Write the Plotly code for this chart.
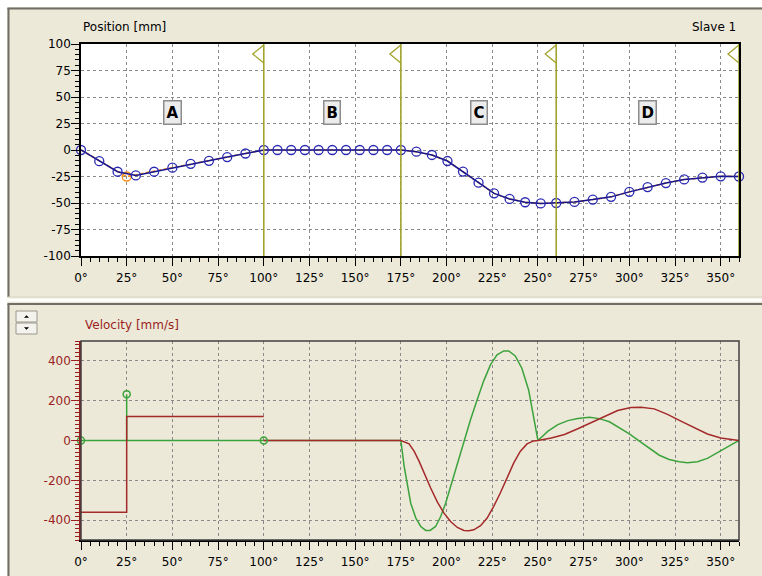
import plotly.graph_objects as go

# ---------------- data ----------------
# Position (slave 1), sampled points of the cam profile [deg, mm]
pos_x = [0, 10, 20, 30, 40, 50, 60, 70, 80, 90, 100,
         107.5, 115, 122.5, 130, 137.5, 145, 152.5, 160, 167.5, 175,
         183.5, 192, 200.5, 209, 217.5, 226, 234.5, 243, 251.5, 260,
         270, 280, 290, 300, 310, 320, 330, 340, 350, 360]
pos_y = [0, -10.5, -20.5, -24, -20.5, -16.7, -13, -10.2, -6.7, -3.3, 0,
         0, 0, 0, 0, 0, 0, 0, 0, 0, 0,
         -1.6, -4.7, -10.4, -20.4, -30.8, -40.9, -46.2, -49.3, -50.4, -50,
         -49, -46.8, -44.2, -39.5, -35, -31.2, -27.8, -26, -24.8, -25]

# master (orange) profile points
master_x = [0, 25, 100, 175, 183.5, 192, 200.5, 209, 217.5, 226, 234.5, 243, 251.5, 260,
            270, 280, 290, 300, 310, 320, 330, 340, 350, 360]
master_y = [0, -25, 0, 0, -1.6, -4.7, -10.4, -20.4, -30.8, -40.9, -46.2, -49.3, -50.4, -50,
            -49, -46.8, -44.2, -39.5, -35, -31.2, -27.8, -26, -24.8, -25]
master_pt_x = [25]
master_pt_y = [-25]

# section boundaries and labels
bounds = [100, 175, 260, 360]
sect_names = ["A", "B", "C", "D"]
sect_x = [50, 137.5, 217.5, 310]
sect_y = [35, 35, 35, 35]

# Velocity [mm/s] (red)
velA_x = [0, 25, 25, 100]
velA_y = [-360, -360, 120, 120]
vel_x = [100, 175, 179.5, 182.3, 185, 187.7, 191.3, 195, 198.6, 202.2, 205.9, 209.5, 212.2,
         214.9, 218.6, 222.2, 225.8, 229.4, 233.1, 236.7, 240.3, 244, 247.6, 250,
         257.3, 264.5, 271.8, 279.1, 286.4, 293.6, 300.9, 306.4, 313.6, 320.9, 328.2,
         335.5, 342.7, 350, 360]
vel_y = [0, 0, -17, -55, -105, -164, -239, -310, -365, -407, -437, -452, -453,
         -449, -428, -390, -331, -264, -189, -114, -55, -17, -2, 0,
         13, 30, 59, 89, 122, 151, 166, 167, 159, 131, 97,
         64, 33, 13, 0]

# Acceleration (green)
acc_x = [0, 25, 25, 25, 100, 175, 176.8, 178.6, 180.4, 183.2, 185.9, 188.6, 191, 194, 196.8,
         199.5, 202.2, 205.9, 209.5, 213.1, 216.7, 220.4, 224, 227.6, 231.3, 234, 237.6,
         241.2, 244.9, 247.6, 250,
         255.5, 260.9, 266.4, 271.8, 278.2, 283.6, 289.1, 294.5, 300, 305.5, 310.9, 316.4,
         321.8, 327.3, 331.8, 337.3, 342.7, 348.2, 353.6, 360]
acc_y = [0, 0, 233, 0, 0, 0, -130, -231, -315, -390, -432, -452, -452, -432, -382,
         -315, -231, -114, 3, 104, 204, 301, 380, 430, 450, 450, 425,
         363, 254, 120, 0,
         47, 80, 100, 110, 117, 110, 94, 64, 33, -3, -40, -74,
         -95, -107, -112, -107, -90, -62, -33, 0]
acc_pt_x = [0, 25, 100]
acc_pt_y = [0, 233, 0]

x_tickvals = [0, 25, 50, 75, 100, 125, 150, 175, 200, 225, 250, 275, 300, 325, 350]
x_ticktext = ["0°", "25°", "50°", "75°", "100°", "125°", "150°", "175°", "200°", "225°",
              "250°", "275°", "300°", "325°", "350°"]
pos_tickvals = [-100, -75, -50, -25, 0, 25, 50, 75, 100]
pos_ticktext = ["-100", "-75", "-50", "-25", "0", "25", "50", "75", "100"]
vel_tickvals = [-400, -200, 0, 200, 400]
vel_ticktext = ["-400", "-200", "0", "200", "400"]

# ---------------- layout geometry ----------------
W, H = 762, 576
L, T, B = 81, 44, 36
PW = 658
R = W - L - PW
PH = H - T - B


def fx(px):
    return (px - L) / PW


def fy(py):
    return 1 - (py - T) / PH


BEIGE = "#ece9d8"
DARKRED = "#9b1f1f"
RED = "#a52a2a"
GREEN = "#3ca33c"
BLUE = "#2a2ab4"
NAVY = "#14148c"
OLIVE = "#a3a32c"
ORANGE = "#ff8c1a"
FONT = "DejaVu Sans"

fig = go.Figure()

# top: master (orange dashed) and slave profile (blue)
fig.add_trace(go.Scatter(x=master_x, y=master_y, mode="lines", xaxis="x", yaxis="y",
                         line=dict(color=ORANGE, width=1.5, dash="4px,2px"), hoverinfo="skip"))
fig.add_trace(go.Scatter(x=master_pt_x, y=master_pt_y, mode="markers", xaxis="x", yaxis="y",
                         marker=dict(symbol="circle-open", size=9, color=ORANGE, line=dict(width=1.3)),
                         hoverinfo="skip"))
fig.add_trace(go.Scatter(x=pos_x, y=pos_y, mode="lines+markers", xaxis="x", yaxis="y",
                         line=dict(color=NAVY, width=1.5),
                         marker=dict(symbol="circle-open", size=9, color=BLUE, line=dict(width=1.3)),
                         cliponaxis=False))

# bottom: acceleration (green) and velocity (red)
fig.add_trace(go.Scatter(x=acc_x, y=acc_y, mode="lines", xaxis="x2", yaxis="y2",
                         line=dict(color=GREEN, width=1.5)))
fig.add_trace(go.Scatter(x=velA_x, y=velA_y, mode="lines", xaxis="x2", yaxis="y2",
                         line=dict(color=RED, width=1.5)))
fig.add_trace(go.Scatter(x=vel_x, y=vel_y, mode="lines", xaxis="x2", yaxis="y2",
                         line=dict(color=RED, width=1.5)))
fig.add_trace(go.Scatter(x=acc_pt_x, y=acc_pt_y, mode="markers", xaxis="x2", yaxis="y2",
                         marker=dict(symbol="circle-open", size=7, color=GREEN, line=dict(width=1.5)),
                         cliponaxis=False))

grid = dict(showgrid=True, gridcolor="#8a8a8a", gridwidth=1, griddash="3px,3px", zeroline=False,
            automargin=False)
xtick = dict(ticks="outside", ticklen=8, tickwidth=1, ticklabelstandoff=2,
             tickfont=dict(family=FONT, size=12, color="#000"))
ytick = dict(ticks="outside", ticklen=8, tickwidth=1, ticklabelstandoff=-2)

fig.update_layout(
    width=W, height=H,
    margin=dict(l=L, r=R, t=T, b=B, pad=0, autoexpand=False),
    paper_bgcolor=BEIGE, plot_bgcolor=BEIGE,
    showlegend=False,
    font=dict(family=FONT, size=12, color="#000"),
    xaxis=dict(domain=[0, 1], range=[0, 360], anchor="y",
               tickmode="array", tickvals=x_tickvals, ticktext=x_ticktext,
               minor=dict(dtick=5, tick0=0, ticklen=4, ticks="outside", tickcolor="#000", showgrid=False),
               showline=True, linecolor="#000", linewidth=1.5, mirror=True, tickcolor="#000",
               **grid, **xtick),
    yaxis=dict(domain=[fy(256), 1], range=[-100, 100], anchor="x",
               tickmode="array", tickvals=pos_tickvals, ticktext=pos_ticktext,
               minor=dict(dtick=5, tick0=0, ticklen=4, ticks="outside", tickcolor="#000", showgrid=False),
               showline=True, linecolor="#000", linewidth=1.5, mirror=True, tickcolor="#000",
               tickfont=dict(family=FONT, size=12, color="#000"),
               **grid, **ytick),
    xaxis2=dict(domain=[0, 1], range=[0, 360], anchor="y2",
                tickmode="array", tickvals=x_tickvals, ticktext=x_ticktext,
                minor=dict(dtick=5, tick0=0, ticklen=4, ticks="outside", tickcolor="#000", showgrid=False),
                showline=True, linecolor="#000", linewidth=1.5, tickcolor="#000",
                **grid, **xtick),
    yaxis2=dict(domain=[0, fy(341)], range=[-500, 500], anchor="x2",
                tickmode="array", tickvals=vel_tickvals, ticktext=vel_ticktext,
                minor=dict(dtick=20, tick0=0, ticklen=4, ticks="outside", tickcolor=DARKRED, showgrid=False),
                showline=True, linecolor=DARKRED, linewidth=1.5, tickcolor=DARKRED,
                tickfont=dict(family=FONT, size=12, color=DARKRED),
                **grid, **ytick),
)

shapes = []
# white outer strips
shapes.append(dict(type="rect", xref="paper", yref="paper", x0=fx(-2), x1=fx(W + 2), y0=fy(7), y1=fy(-2),
                   fillcolor="white", line=dict(width=0), layer="below"))
shapes.append(dict(type="rect", xref="paper", yref="paper", x0=fx(-2), x1=fx(7), y0=fy(H + 2), y1=fy(-2),
                   fillcolor="white", line=dict(width=0), layer="below"))
# panel borders
shapes.append(dict(type="line", xref="paper", yref="paper", x0=fx(7.5), x1=fx(W + 2), y0=fy(8.5), y1=fy(8.5),
                   line=dict(color="#6f6d64", width=2)))
shapes.append(dict(type="line", xref="paper", yref="paper", x0=fx(8.5), x1=fx(8.5), y0=fy(8), y1=fy(297),
                   line=dict(color="#6f6d64", width=2)))
shapes.append(dict(type="line", xref="paper", yref="paper", x0=fx(8), x1=fx(W + 2), y0=fy(297), y1=fy(297),
                   line=dict(color="#d8d4c4", width=1)))
shapes.append(dict(type="rect", xref="paper", yref="paper", x0=fx(7), x1=fx(W + 2), y0=fy(301.5), y1=fy(298.5),
                   fillcolor="white", line=dict(width=0)))
shapes.append(dict(type="line", xref="paper", yref="paper", x0=fx(7.5), x1=fx(W + 2), y0=fy(304), y1=fy(304),
                   line=dict(color="#6f6d64", width=2)))
shapes.append(dict(type="line", xref="paper", yref="paper", x0=fx(8.5), x1=fx(8.5), y0=fy(304), y1=fy(H + 2),
                   line=dict(color="#6f6d64", width=2)))
# up/down buttons
for (yt, yb) in [(311, 322), (323, 334)]:
    shapes.append(dict(type="rect", xref="paper", yref="paper", x0=fx(16), x1=fx(37), y0=fy(yb), y1=fy(yt),
                       fillcolor="#f4f3ee", line=dict(color="#9a988c", width=1)))
cx = 26.5
shapes.append(dict(type="path", xref="paper", yref="paper",
                   path=f"M {fx(cx-2)},{fy(317.5)} L {fx(cx+2)},{fy(317.5)} L {fx(cx)},{fy(315.5)} Z",
                   fillcolor="#000", line=dict(color="#000", width=0.5)))
shapes.append(dict(type="path", xref="paper", yref="paper",
                   path=f"M {fx(cx-2)},{fy(327.5)} L {fx(cx+2)},{fy(327.5)} L {fx(cx)},{fy(329.5)} Z",
                   fillcolor="#000", line=dict(color="#000", width=0.5)))
# white background for top plot area
shapes.append(dict(type="rect", xref="x domain", yref="y domain", x0=0, x1=1, y0=0, y1=1,
                   fillcolor="white", line=dict(width=0), layer="below"))
# frame of bottom plot area
shapes.append(dict(type="rect", xref="x2 domain", yref="y2 domain", x0=0, x1=1, y0=0, y1=1,
                   fillcolor="rgba(0,0,0,0)", line=dict(color="#404040", width=1.5)))
# section boundary lines and flags
for b in bounds:
    shapes.append(dict(type="line", xref="x", yref="y domain", x0=b, x1=b, y0=0, y1=1,
                       line=dict(color=OLIVE, width=1.6)))
    shapes.append(dict(type="path", xref="x", yref="y", xsizemode="pixel", ysizemode="pixel",
                       xanchor=b, yanchor=100, path="M 0,-1 L -11,-10 L 0,-19",
                       line=dict(color=OLIVE, width=1.3), fillcolor="rgba(0,0,0,0)"))
fig.update_layout(shapes=shapes)

ann = []
for name, sx, sy in zip(sect_names, sect_x, sect_y):
    ann.append(dict(x=sx, y=sy, xref="x", yref="y", text=f"<b>{name}</b>", showarrow=False,
                    font=dict(family=FONT, size=15, color="#000"),
                    bgcolor="#ececec", bordercolor="#8c8c8c", borderwidth=1.5, borderpad=2))
ann.append(dict(x=fx(81), y=fy(27), xref="paper", yref="paper", text="Position [mm]",
                showarrow=False, xanchor="left", yanchor="middle",
                font=dict(family=FONT, size=12, color="#000")))
ann.append(dict(x=fx(738), y=fy(27), xref="paper", yref="paper", text="Slave 1",
                showarrow=False, xanchor="right", yanchor="middle",
                font=dict(family=FONT, size=12, color="#000")))
ann.append(dict(x=fx(83), y=fy(325), xref="paper", yref="paper", text="Velocity [mm/s]",
                showarrow=False, xanchor="left", yanchor="middle",
                font=dict(family=FONT, size=12, color=DARKRED)))
fig.update_layout(annotations=ann)

fig.write_html("out.html", config={"displayModeBar": False},
               post_script="document.body.style.margin='0';document.body.style.overflow='hidden';")
